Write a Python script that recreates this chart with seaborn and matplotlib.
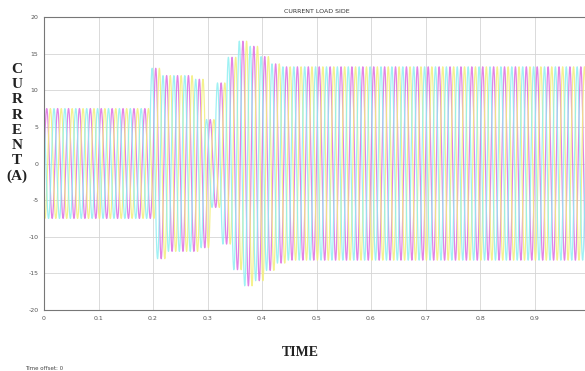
import numpy as np
import pandas as pd
import matplotlib
matplotlib.use("Agg")
import matplotlib.pyplot as plt
import seaborn as sns

# ---- data ----
freq_hz = 50.0
t_end = 1.0
# peak amplitude (A) of each 20 ms cycle, cycles 0..49
cycle_amplitude = [7.5] * 10 + [13.0, 12.0, 12.0, 12.0, 11.5] + \
                  [6.0, 11.0, 14.5, 16.7, 16.0, 14.6, 13.6] + [13.2] * 28
phase_names = ["Ia", "Ib", "Ic"]
phase_shift_deg = [0.0, -120.0, 120.0]
phase_colors = ["#dc6ee2", "#f3ef7a", "#8eeff2"]
x_ticks = [0, 0.1, 0.2, 0.3, 0.4, 0.5, 0.6, 0.7, 0.8, 0.9, 1.0]
x_tick_labels = ["0", "0.1", "0.2", "0.3", "0.4", "0.5", "0.6", "0.7", "0.8", "0.9", "1"]
y_ticks = [-20, -15, -10, -5, 0, 5, 10, 15, 20]
y_tick_labels = ["-20", "-15", "-10", "-5", "0", "5", "10", "15", "20"]

# ---- build waveform table ----
t = np.linspace(0, t_end, 20001)
amp = np.array(cycle_amplitude)
frames = []
for name, sh in zip(phase_names, phase_shift_deg):
    ph = 2 * np.pi * freq_hz * t + np.deg2rad(sh)
    # cycle index follows the phase's own zero crossings so the envelope steps cleanly
    idx = np.clip(np.floor(ph / (2 * np.pi)).astype(int), 0, len(amp) - 1)
    frames.append(pd.DataFrame({"t": t, "i": amp[idx] * np.sin(ph), "phase": name}))
df = pd.concat(frames, ignore_index=True)

sns.set_theme(style="white")
fig = plt.figure(figsize=(5.85, 3.71), dpi=100)
ax = fig.add_axes([44 / 585, 1 - 310 / 371, (589 - 44) / 585, (310 - 17) / 371])

sns.lineplot(data=df, x="t", y="i", hue="phase", palette=phase_colors,
             linewidth=0.9, alpha=0.85, legend=False, ax=ax, estimator=None,
             sort=False)

ax.set_xlim(0, 1.0)
ax.set_ylim(-20, 20)
ax.set_xticks(x_ticks)
ax.set_xticklabels(x_tick_labels)
ax.set_yticks(y_ticks)
ax.set_yticklabels(y_tick_labels)
ax.tick_params(axis="both", labelsize=4.5, colors="#555555", direction="in",
               length=2, width=0.5, pad=4)
ax.grid(True, color="#d4d4d4", linewidth=0.6)
ax.set_axisbelow(True)
for s in ax.spines.values():
    s.set_color("#777777")
    s.set_linewidth(0.8)
ax.set_xlabel("")
ax.set_ylabel("")
ax.set_title("CURRENT LOAD SIDE", fontsize=4.5, color="#333333", pad=3)

serif = ["Liberation Serif", "DejaVu Serif"]
fig.text(17 / 585, 1 - 123 / 371, "C\nU\nR\nR\nE\nN\nT\n(A)", ha="center", va="center",
         fontsize=11, fontweight="bold", family=serif, linespacing=1.22, color="#222222")
fig.text(300 / 585, 1 - 352 / 371, "TIME", ha="center", va="center",
         fontsize=10, fontweight="bold", family=serif, color="#222222")
fig.text(25 / 585, 1 - 368 / 371, "Time offset: 0", ha="left", va="center",
         fontsize=4, color="#444444")

fig.savefig("out.png", dpi=100)
